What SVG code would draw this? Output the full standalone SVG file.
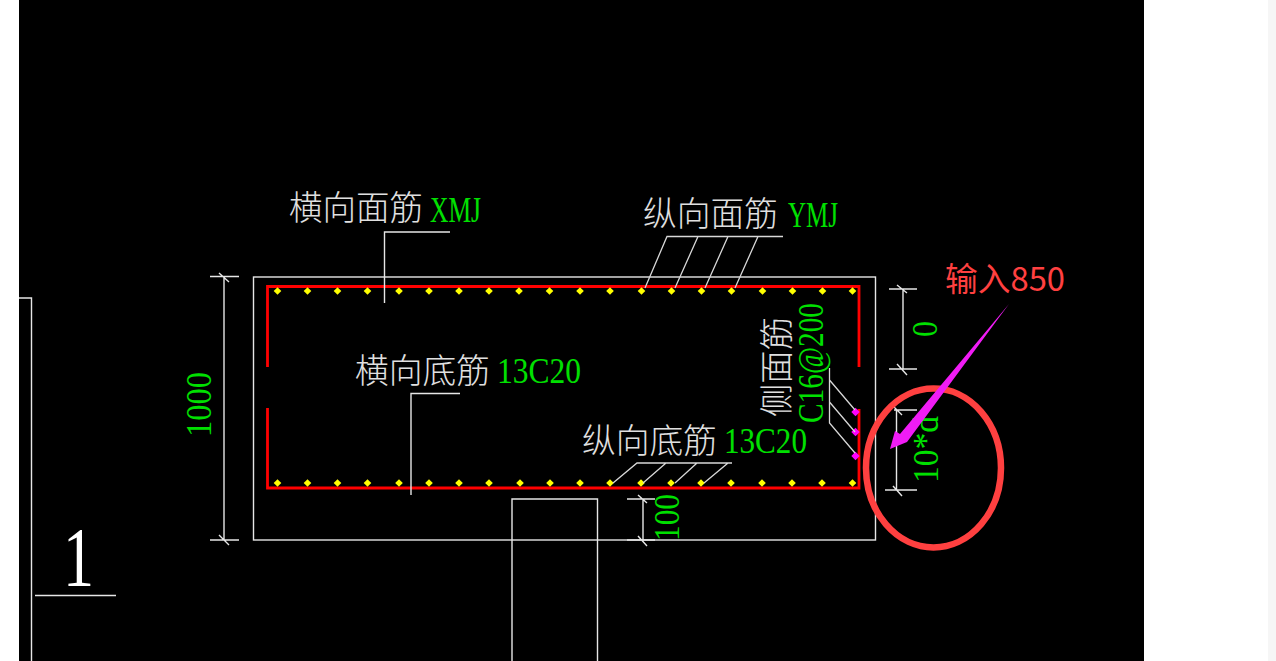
<svg xmlns="http://www.w3.org/2000/svg" width="1276" height="661" viewBox="0 0 1276 661">
<style>
.l{fill:none;stroke:#e6e6e6;stroke-width:1.4}
.t{fill:none;stroke:#d8d8d8;stroke-width:1.3}
.r{fill:none;stroke:#f00;stroke-width:2.8}
.cn{font-family:"Noto Sans CJK SC","Liberation Sans",sans-serif;font-size:34px;font-weight:300;fill:#e0e0e0}
.g{font-family:"Liberation Serif",serif;font-size:35px;fill:#00e000}
</style>
<defs>
<path id="d" d="M0-3.800L3.800 0L0 3.800L-3.800 0Z" fill="#ff0"/>
<path id="m" d="M0-4.200L4.200 0L0 4.200L-4.200 0Z" fill="#f0f"/>
</defs>
<rect width="1276" height="661" fill="#fff"/>
<rect x="1268" width="8" height="661" fill="#f6f6f6"/>
<rect x="19" width="1125" height="661" fill="#000"/>
<g id="frame">
<path class="l" d="M19 298H31.500V661M35 595.500H116"/>
<rect class="l" x="253.500" y="277" width="622" height="263"/>
<path class="l" d="M512 661V499H597.500V661"/>
</g>
<g id="rebar">
<path class="r" d="M267.500 367V286.500H859V367M267.500 408V488H859V409"/>
</g>
<g id="dots-top">
<use href="#d" x="277.500" y="291"/><use href="#d" x="307.500" y="291"/><use href="#d" x="337.500" y="291"/><use href="#d" x="367.500" y="291"/><use href="#d" x="399" y="291"/><use href="#d" x="429" y="291"/><use href="#d" x="459" y="291"/><use href="#d" x="489" y="291"/><use href="#d" x="519" y="291"/><use href="#d" x="549.500" y="291"/><use href="#d" x="580" y="291"/><use href="#d" x="610" y="291"/><use href="#d" x="641.500" y="291"/><use href="#d" x="671.500" y="291"/><use href="#d" x="701.500" y="291"/><use href="#d" x="731.500" y="291"/><use href="#d" x="762.500" y="291"/><use href="#d" x="792.500" y="291"/><use href="#d" x="822.500" y="291"/><use href="#d" x="852.500" y="291"/>
</g>
<g id="dots-bottom">
<use href="#d" x="277.500" y="483"/><use href="#d" x="307.500" y="483"/><use href="#d" x="337.500" y="483"/><use href="#d" x="367.500" y="483"/><use href="#d" x="399" y="483"/><use href="#d" x="429" y="483"/><use href="#d" x="459" y="483"/><use href="#d" x="489" y="483"/><use href="#d" x="520" y="483"/><use href="#d" x="550" y="483"/><use href="#d" x="580" y="483"/><use href="#d" x="610" y="483"/><use href="#d" x="641" y="483"/><use href="#d" x="671" y="483"/><use href="#d" x="701" y="483"/><use href="#d" x="731" y="483"/><use href="#d" x="762" y="483"/><use href="#d" x="792" y="483"/><use href="#d" x="822" y="483"/><use href="#d" x="852.500" y="483"/>
</g>
<g id="side-dots">
<use href="#m" x="855.500" y="412"/><use href="#m" x="855.500" y="432"/><use href="#m" x="855.500" y="456"/>
</g>
<g id="connectors">
<path class="l" d="M450 232H384.500V303"/>
<path class="l" d="M411 495V393.500H460"/>
<path class="t" d="M783 236.500H667L645 288M698 236.500L675 288M728 236.500L705 288M758 236.500L735 288"/>
<path class="t" d="M732 463H637L613 483M666 463L643 483M697 463L675 483M728 463L704 483"/>
<path class="t" d="M829.500 368V423L855 453M829.500 380L855 410M829.500 402L855 432"/>
</g>
<g id="dimensions">
<path class="l" d="M210 276.500H239M224 276.500V540M210 540H239M219 273L229 282M219 535L229 545"/>
<path class="l" d="M889 289H917M903 289V369M889 369H917M897 285L907 293M897 364L907 375"/>
<path class="l" d="M894 410H917M896.500 410V490M885 490H917M893 406L902 415M893 486L902 496"/>
<path class="l" d="M627 499H655M643 499V540M627 540H655M638 495L647 503M638 536L647 546"/>
</g>
<g id="labels">
<text class="cn" x="289" y="220" textLength="134" lengthAdjust="spacingAndGlyphs">横向面筋</text>
<text class="g" x="430" y="222" textLength="51" lengthAdjust="spacingAndGlyphs">XMJ</text>
<text class="cn" x="643" y="226" textLength="135" lengthAdjust="spacingAndGlyphs">纵向面筋</text>
<text class="g" x="788" y="227" textLength="50" lengthAdjust="spacingAndGlyphs">YMJ</text>
<text class="cn" x="355" y="383" textLength="135" lengthAdjust="spacingAndGlyphs">横向底筋</text>
<text class="g" x="497" y="383" textLength="84" lengthAdjust="spacingAndGlyphs">13C20</text>
<text class="cn" x="582" y="453" textLength="135" lengthAdjust="spacingAndGlyphs">纵向底筋</text>
<text class="g" x="724" y="453" textLength="83" lengthAdjust="spacingAndGlyphs">13C20</text>
<text class="cn" transform="translate(789 417) rotate(-90)" textLength="100" lengthAdjust="spacingAndGlyphs">侧面筋</text>
<text class="g" transform="translate(823 423) rotate(-90)" textLength="120" lengthAdjust="spacingAndGlyphs">C16@200</text>
<text class="g" transform="translate(211 437) rotate(-90)" textLength="65" lengthAdjust="spacingAndGlyphs">1000</text>
<text class="g" transform="translate(937 337) rotate(-90)" textLength="16" lengthAdjust="spacingAndGlyphs">0</text>
<text class="g" transform="translate(938 483) rotate(-90)" textLength="67" lengthAdjust="spacingAndGlyphs">10*d</text>
<text class="g" transform="translate(679 541) rotate(-90)" textLength="47" lengthAdjust="spacingAndGlyphs">100</text>
<text x="63" y="586" font-family="Liberation Serif,serif" font-size="84px" fill="#fff" textLength="31" lengthAdjust="spacingAndGlyphs">1</text>
</g>
<g id="annotation">
<ellipse cx="933.500" cy="468" rx="67.500" ry="79.500" fill="none" stroke="#ff4040" stroke-width="6.500"/>
<path d="M1009 304L907 442L890 449L895 431L900 434Z" fill="#f01cf5"/>
<text x="945" y="291" font-family="Noto Sans CJK SC,Noto Sans,sans-serif" font-size="33px" fill="#ff4040" textLength="120" lengthAdjust="spacingAndGlyphs">输入850</text>
</g>
</svg>
